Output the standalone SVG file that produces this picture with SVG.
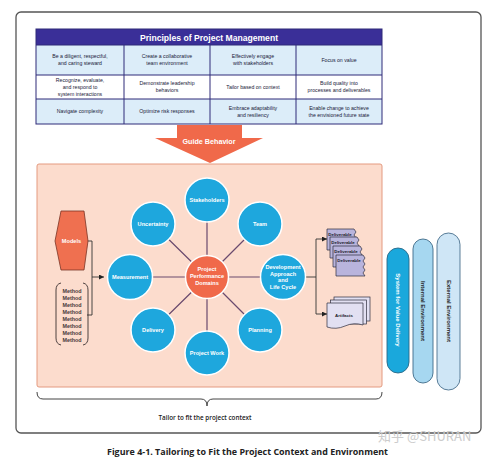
<svg xmlns="http://www.w3.org/2000/svg" width="492" height="463" viewBox="0 0 492 463">
<style>
.t{font-family:"Liberation Sans",Arial,sans-serif;}
.cell{font-family:"Liberation Sans",Arial,sans-serif;font-size:5.2px;fill:#1a1a3a;text-anchor:middle;}
.dom{fill:#1ea7dd;stroke:#ffffff;stroke-width:1.5;}
.dl{font-family:"Liberation Sans",Arial,sans-serif;font-size:5.6px;font-weight:bold;fill:#ffffff;text-anchor:middle;}
.spoke{stroke:#6a4a6e;stroke-width:1.2;fill:none;}
.wire{stroke:#333;stroke-width:0.9;fill:none;}
.meth{font-family:"Liberation Sans",Arial,sans-serif;font-size:5.4px;font-weight:bold;fill:#4a3a3a;text-anchor:middle;}
.doc{fill:#b9b4dc;stroke:#2d2d3d;stroke-width:0.7;}
.art{fill:#e2e0f2;stroke:#2d2d3d;stroke-width:0.7;}
.dtx{font-family:"Liberation Sans",Arial,sans-serif;font-size:4.4px;font-weight:bold;fill:#1a1a2a;text-anchor:middle;}
.vt{font-family:"Liberation Sans",Arial,sans-serif;font-size:6px;font-weight:bold;text-anchor:middle;fill:#222;}
.vtw{fill:#ffffff;}
.grid{stroke:#2f2a78;stroke-width:1;fill:none;}
</style>
<defs>
<marker id="ah" viewBox="0 0 6 6" refX="6" refY="3" markerWidth="5" markerHeight="5" orient="auto" markerUnits="userSpaceOnUse">
<path d="M0,0 L6,3 L0,6 Z" fill="#222"/>
</marker>
<path id="dv" d="M0,0 H27 l2,3 -2,3 2,3 -2,3 2,3 -2,3 2,3 V21 H0 Z"/>
</defs>
<rect x="0" y="0" width="492" height="463" fill="#ffffff"/>
<rect x="16" y="12" width="465" height="421" rx="5" fill="#ffffff" stroke="#555" stroke-width="1.3"/>

<g id="principles">
<rect x="36" y="29" width="346" height="16" fill="#3a2f98"/>
<text class="t" x="209" y="40.5" font-size="8.6" font-weight="bold" fill="#ffffff" text-anchor="middle">Principles of Project Management</text>
<rect x="36" y="45" width="346" height="30" fill="#dcedf9"/>
<rect x="36" y="75" width="346" height="24" fill="#ffffff"/>
<rect x="36" y="99" width="346" height="25" fill="#dcedf9"/>
<rect x="36" y="29" width="346" height="95" class="grid"/>
<path class="grid" d="M36,45 H382 M36,75 H382 M36,99 H382 M124,45 V124 M210,45 V124 M296,45 V124"/>
<text class="cell" x="80" y="58">Be a diligent, respectful,</text>
<text class="cell" x="80" y="65">and caring steward</text>
<text class="cell" x="167" y="58">Create a collaborative</text>
<text class="cell" x="167" y="65">team environment</text>
<text class="cell" x="253" y="58">Effectively engage</text>
<text class="cell" x="253" y="65">with stakeholders</text>
<text class="cell" x="339" y="61.5">Focus on value</text>
<text class="cell" x="80" y="82">Recognize, evaluate,</text>
<text class="cell" x="80" y="89">and respond to</text>
<text class="cell" x="80" y="96">system interactions</text>
<text class="cell" x="167" y="85">Demonstrate leadership</text>
<text class="cell" x="167" y="92">behaviors</text>
<text class="cell" x="253" y="89">Tailor based on context</text>
<text class="cell" x="339" y="85">Build quality into</text>
<text class="cell" x="339" y="92">processes and deliverables</text>
<text class="cell" x="80" y="113">Navigate complexity</text>
<text class="cell" x="167" y="113">Optimize risk responses</text>
<text class="cell" x="253" y="109.5">Embrace adaptability</text>
<text class="cell" x="253" y="116.5">and resiliency</text>
<text class="cell" x="339" y="109.5">Enable change to achieve</text>
<text class="cell" x="339" y="116.5">the envisioned future state</text>
</g>

<g id="guide">
<path d="M177,125 H242 V138 H263 L210,163 L155,138 H177 Z" fill="#f0694a"/>
<text class="t" x="209" y="143.5" font-size="7.2" font-weight="bold" fill="#ffffff" text-anchor="middle">Guide Behavior</text>
</g>

<g id="context">
<rect x="37" y="164" width="345" height="223" rx="2" fill="#fcdccd" stroke="#e49a80" stroke-width="1"/>
</g>

<g id="connectors">
<path class="spoke" d="M207,277 V200 M207,277 L260,224 M207,277 H283 M207,277 L260,330 M207,277 V353 M207,277 L153,330 M207,277 H130 M207,277 L153,224"/>
<path class="wire" d="M87,241 H92 V315 H87"/>
<path class="wire" d="M92,277 H104" marker-end="url(#ah)"/>
<path class="wire" d="M306,277 H316 V314 M316,239 V277"/>
<path class="wire" d="M316,239 H327" marker-end="url(#ah)"/>
<path class="wire" d="M316,314 H327" marker-end="url(#ah)"/>
<path d="M37,392 Q37,399 43,399 H201 Q207,399 207,406 Q207,399 213,399 H376 Q382,399 382,392" fill="none" stroke="#444" stroke-width="1"/>
</g>

<g id="stakeholders"><circle class="dom" cx="207" cy="200" r="22"/><text class="dl" x="207" y="202">Stakeholders</text></g>
<g id="team"><circle class="dom" cx="260" cy="224" r="22"/><text class="dl" x="260" y="226">Team</text></g>
<g id="development"><circle class="dom" cx="283" cy="277" r="22.5"/>
<text class="dl" x="283" y="269">Development</text><text class="dl" x="283" y="275.5">Approach</text><text class="dl" x="283" y="282">and</text><text class="dl" x="283" y="288.5">Life Cycle</text></g>
<g id="planning"><circle class="dom" cx="260" cy="330" r="22"/><text class="dl" x="260" y="332">Planning</text></g>
<g id="projectwork"><circle class="dom" cx="207" cy="353" r="22"/><text class="dl" x="207" y="355">Project Work</text></g>
<g id="delivery"><circle class="dom" cx="153" cy="330" r="22"/><text class="dl" x="153" y="332">Delivery</text></g>
<g id="measurement"><circle class="dom" cx="130" cy="277" r="22.5"/><text class="dl" x="130" y="279">Measurement</text></g>
<g id="uncertainty"><circle class="dom" cx="153" cy="224" r="22"/><text class="dl" x="153" y="226">Uncertainty</text></g>
<g id="domains"><circle cx="207" cy="277" r="21.5" fill="#f0694a" stroke="#ffffff" stroke-width="1.5"/>
<text class="dl" x="207" y="271">Project</text><text class="dl" x="207" y="278">Performance</text><text class="dl" x="207" y="285">Domains</text></g>

<g id="models">
<path d="M61,211 H84 L88,241 L84,270 H61 L55,241 Z" fill="#ef7050" stroke="#7a3324" stroke-width="0.8"/>
<text class="dl" x="71.5" y="243" font-size="5">Models</text>
</g>

<g id="methods">
<path d="M61,283 Q56,284 56,290 V338 Q56,344 61,345" fill="none" stroke="#3a3030" stroke-width="0.9"/>
<path d="M83,283 Q88,284 88,290 V338 Q88,344 83,345" fill="none" stroke="#3a3030" stroke-width="0.9"/>
<text class="meth" x="72" y="293">Method</text>
<text class="meth" x="72" y="300">Method</text>
<text class="meth" x="72" y="307">Method</text>
<text class="meth" x="72" y="314">Method</text>
<text class="meth" x="72" y="321">Method</text>
<text class="meth" x="72" y="328">Method</text>
<text class="meth" x="72" y="335">Method</text>
<text class="meth" x="72" y="342">Method</text>
</g>

<g id="deliverables">
<use href="#dv" x="327" y="229" class="doc"/>
<text class="dtx" x="340" y="236">Deliverable</text>
<use href="#dv" x="330" y="237" class="doc"/>
<text class="dtx" x="343" y="244">Deliverable</text>
<use href="#dv" x="333" y="246" class="doc"/>
<text class="dtx" x="346" y="253">Deliverable</text>
<use href="#dv" x="336" y="255" class="doc"/>
<text class="dtx" x="349" y="262">Deliverable</text>
</g>

<g id="artifacts">
<rect x="334" y="297" width="36" height="24" class="art"/>
<rect x="330.5" y="300" width="36" height="24" class="art"/>
<path d="M327,303 H363 V325 Q354,322 345,326 Q336,330 327,327 Z" class="art"/>
<text class="dtx" x="344" y="317" font-size="4.8">Artifacts</text>
</g>

<g id="external">
<rect x="437" y="233" width="23" height="157" rx="11.5" fill="#cfe6f6" stroke="#4a6f8c" stroke-width="0.9"/>
<text class="vt" transform="translate(446.5,311) rotate(90)">External Environment</text>
</g>
<g id="internal">
<rect x="413" y="239" width="20" height="144" rx="10" fill="#a6d7f0" stroke="#3d6a88" stroke-width="0.9"/>
<text class="vt" transform="translate(421,311) rotate(90)">Internal Environment</text>
</g>
<g id="system">
<rect x="387" y="248" width="22" height="125" rx="11" fill="#1aa8dc" stroke="#2a6886" stroke-width="0.9"/>
<text class="vt vtw" transform="translate(396,310) rotate(90)">System for Value Delivery</text>
</g>

<text x="205" y="420" font-family="'Open Sans','Liberation Sans',sans-serif" font-size="6.3" font-weight="600" fill="#222" text-anchor="middle">Tailor to fit the project context</text>
<text x="378" y="441" font-family="'Noto Sans CJK SC','Noto Sans',sans-serif" font-size="13" fill="#cccccc">知乎 @SHURAN</text>
<text x="107" y="455" font-family="'Open Sans','Liberation Sans',sans-serif" font-size="9.5" font-weight="bold" fill="#222" textLength="281" lengthAdjust="spacingAndGlyphs">Figure 4-1. Tailoring to Fit the Project Context and Environment</text>
</svg>
